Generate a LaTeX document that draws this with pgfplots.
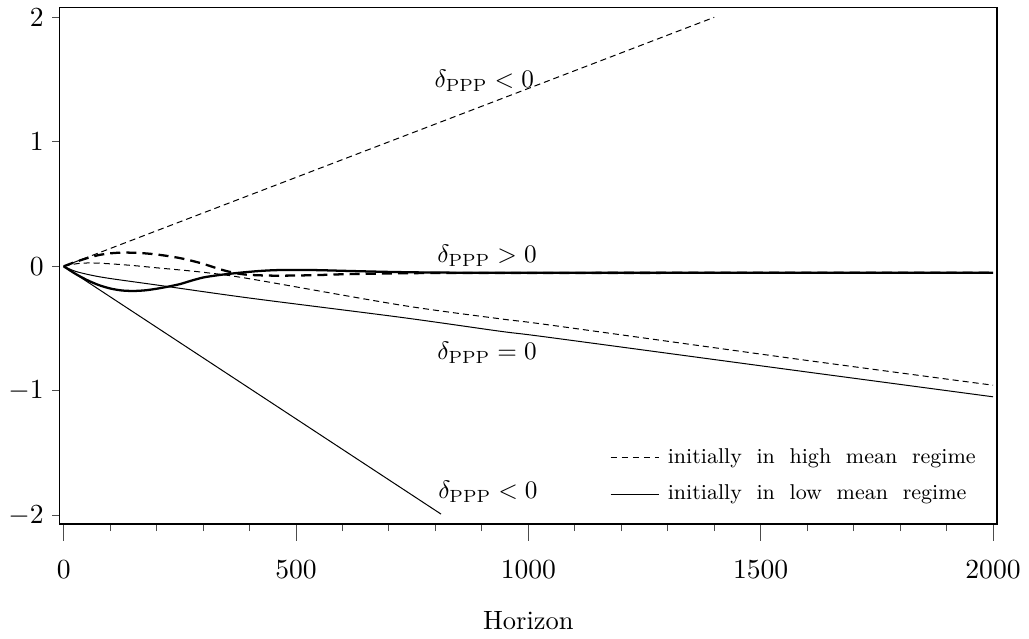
\documentclass[border=0pt]{standalone}
\usepackage{pgfplots}
\pgfplotsset{compat=1.18}
\begin{document}
\begin{tikzpicture}
\begin{axis}[
  name=ax,
  scale only axis,
  width=372pt, height=205pt,
  xmin=-9, xmax=2009,
  ymin=-2.07, ymax=2.08,
  xtick={0,500,...,2000},
  minor x tick num=4,
  ytick={-2,-1,0,1,2},
  /pgf/number format/1000 sep={},
  tick pos=left,
  tick align=outside,
  tick label style={font=\fontsize{10.5}{12}\selectfont},
  xticklabel style={yshift=-6.6pt},
  yticklabel style={xshift=1.5pt},
  xtick style={/pgfplots/major tick length=6.7pt,/pgfplots/minor tick length=2.8pt,line width=0.4pt,black!70},
  ytick style={/pgfplots/major tick length=2.8pt,line width=0.4pt,black!70},
  axis line style={line width=0.6pt},
  xlabel={Horizon},
  xlabel style={at={(rel axis cs:0.5,0)}, anchor=base, yshift=-42pt, font=\fontsize{10.5}{12}\selectfont},
  legend image code/.code={\draw[#1] (0pt,0pt) -- (19pt,0pt);},
  legend style={at={(rel axis cs:0.983,0.029)}, anchor=south east, draw=none, fill=none,
    inner sep=0pt, row sep=3pt, cells={anchor=west}, font=\fontsize{8.5}{10}\selectfont},
  legend cell align=left,
]
\addlegendimage{line width=0.4pt, dash pattern=on 2.4pt off 2pt}
\addlegendentry{\hspace*{1.5pt}initially\ \ in\ \ high\ \ mean\ \ regime}
\addlegendimage{line width=0.3pt}
\addlegendentry{\hspace*{1.5pt}initially\ \ in\ \ low\ \ mean\ \ regime}

% high mean regime, delta < 0
\addplot[forget plot, line width=0.4pt, dash pattern=on 2.4pt off 1.6pt] coordinates {
  (0,0) (1400,2.0)
};
% low mean regime, delta < 0
\addplot[forget plot, line width=0.4pt] coordinates {
  (0,0) (812,-1.99)
};
% high mean regime, delta = 0
\addplot[forget plot, line width=0.4pt, dash pattern=on 2.4pt off 1.6pt, smooth] coordinates {
  (0,0) (30,0.022) (60,0.027) (100,0.02) (150,0.006) (200,-0.012) (300,-0.048) (400,-0.1)
  (726,-0.312) (940,-0.422) (1047,-0.472) (1582,-0.747) (2000,-0.955)
};
% low mean regime, delta = 0
\addplot[forget plot, line width=0.4pt, smooth] coordinates {
  (0,0) (25,-0.04) (60,-0.072) (100,-0.098) (200,-0.15) (400,-0.255)
  (726,-0.41) (940,-0.522) (1047,-0.572) (1582,-0.84) (2000,-1.048)
};
% high mean regime, delta > 0
\addplot[forget plot, line width=0.9pt, dash pattern=on 4pt off 2.4pt, smooth] coordinates {
  (0,0) (25,0.035) (50,0.065) (75,0.09) (100,0.104) (125,0.11) (150,0.109)
  (175,0.104) (200,0.095) (225,0.082) (250,0.066) (275,0.045) (300,0.02)
  (325,-0.01) (350,-0.038) (375,-0.058) (400,-0.069) (450,-0.075) (500,-0.074)
  (550,-0.07) (600,-0.064) (700,-0.057) (800,-0.054) (1000,-0.053) (2000,-0.052)
};
% low mean regime, delta > 0
\addplot[forget plot, line width=0.9pt, smooth] coordinates {
  (0,0) (25,-0.06) (50,-0.11) (75,-0.15) (100,-0.178) (125,-0.194) (150,-0.198)
  (175,-0.193) (200,-0.18) (225,-0.163) (250,-0.143) (275,-0.115) (300,-0.09)
  (325,-0.075) (350,-0.063) (383,-0.05) (420,-0.038) (455,-0.031) (500,-0.029)
  (550,-0.031) (600,-0.036) (700,-0.045) (800,-0.05) (1000,-0.052) (2000,-0.052)
};

\node[anchor=base west, inner sep=0pt] at (axis cs:797,1.434) {$\delta_{\mathrm{PPP}}<0$};
\node[anchor=base west, inner sep=0pt] at (axis cs:803,0.03) {$\delta_{\mathrm{PPP}}>0$};
\node[anchor=base west, inner sep=0pt] at (axis cs:803,-0.752) {$\delta_{\mathrm{PPP}}=0$};
\node[anchor=base west, inner sep=0pt] at (axis cs:805,-1.864) {$\delta_{\mathrm{PPP}}<0$};
\end{axis}
\path ([shift={(-22.5pt,-44.3pt)}]ax.south west) ([shift={(11.9pt,2.8pt)}]ax.north east);
\end{tikzpicture}
\end{document}
